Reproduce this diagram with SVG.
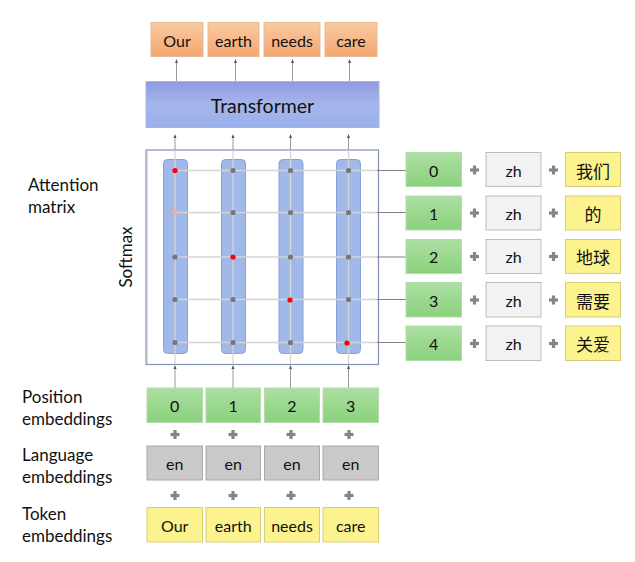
<svg xmlns="http://www.w3.org/2000/svg" width="635" height="562" viewBox="0 0 635 562">
<style>
text{font-family:Lato,"Liberation Sans","Noto Sans CJK SC",sans-serif;fill:#111}
.lbl{font-size:17px}
.bt{font-size:16px;text-anchor:middle;dominant-baseline:central}
.cjk{font-family:"Noto Sans CJK SC",sans-serif;font-size:17px;text-anchor:middle;dominant-baseline:central}
.org{fill:url(#gOrg);stroke:#e5b896;stroke-width:1}
.grn{fill:url(#gGrn);stroke:#b5dcae;stroke-width:1}
.gry{fill:#c9c9c9;stroke:#a9a9a9;stroke-width:1}
.lgt{fill:#f2f2f2;stroke:#bcbcbc;stroke-width:1}
.yel{fill:#fdf38e;stroke:#d9cd78;stroke-width:1}
.col{fill:#a1b9e9;stroke:#8aa0d6;stroke-width:1}
.gl{stroke:#d4d4d4;stroke-width:1.3;fill:none}
.cn{stroke:#9a9a9a;stroke-width:1;fill:none}
.cnd{stroke:#808080;stroke-width:1;fill:none}
.plus{stroke:#858585;stroke-width:3.2}
.dot{fill:#777}
</style>
<defs>
<linearGradient id="gOrg" x1="0" y1="0" x2="0" y2="1"><stop offset="0" stop-color="#f9cba3"/><stop offset="1" stop-color="#f4a56e"/></linearGradient>
<linearGradient id="gGrn" x1="0" y1="0" x2="0" y2="1"><stop offset="0" stop-color="#acdfa3"/><stop offset="1" stop-color="#8bd17c"/></linearGradient>
<linearGradient id="gTr" x1="0" y1="0" x2="0" y2="1"><stop offset="0" stop-color="#8e9ae0"/><stop offset="0.5" stop-color="#a6b6ec"/><stop offset="1" stop-color="#98b0ea"/></linearGradient>
<marker id="ah" markerWidth="4" markerHeight="4" refX="2" refY="2" orient="auto" markerUnits="userSpaceOnUse"><path d="M0,0.5 L4,2 L0,3.5 Z" fill="#555"/></marker>
<g id="pl"><line class="plus" x1="-4.5" y1="0" x2="4.5" y2="0"/><line class="plus" x1="0" y1="-4.5" x2="0" y2="4.5"/></g>
</defs>

<!-- labels -->
<g id="labels">
<text class="lbl" x="28" y="191">Attention</text>
<text class="lbl" x="28" y="213">matrix</text>
<text class="lbl" transform="translate(132,257) rotate(-90)" text-anchor="middle">Softmax</text>
<text class="lbl" x="22" y="403">Position</text>
<text class="lbl" x="22" y="425">embeddings</text>
<text class="lbl" x="22" y="461">Language</text>
<text class="lbl" x="22" y="483">embeddings</text>
<text class="lbl" x="22" y="520">Token</text>
<text class="lbl" x="22" y="542">embeddings</text>
</g>

<!-- matrix frame -->
<g id="matrix">
<rect x="146" y="150" width="232.5" height="214.5" fill="#fff" stroke="#8390b5" stroke-width="1.2"/>
<line x1="147.3" y1="151" x2="147.3" y2="364" stroke="#c8cde0" stroke-width="1"/>
<rect class="col" x="163.5" y="159.5" width="24" height="194" rx="4"/>
<rect class="col" x="221.5" y="159.5" width="24" height="194" rx="4"/>
<rect class="col" x="279" y="159.5" width="24" height="194" rx="4"/>
<rect class="col" x="336.5" y="159.5" width="24" height="194" rx="4"/>
</g>

<!-- connectors -->
<g id="connectors">
<line class="gl" x1="175" y1="150" x2="175" y2="364"/>
<line class="gl" x1="233" y1="150" x2="233" y2="364"/>
<line class="gl" x1="290.5" y1="150" x2="290.5" y2="364"/>
<line class="gl" x1="348.5" y1="150" x2="348.5" y2="364"/>
<line class="gl" x1="175" y1="170.5" x2="377" y2="170.5"/>
<line class="gl" x1="175" y1="212.5" x2="377" y2="212.5"/>
<line class="gl" x1="175" y1="257" x2="377" y2="257"/>
<line class="gl" x1="175" y1="299.5" x2="377" y2="299.5"/>
<line class="gl" x1="175" y1="342.5" x2="377" y2="342.5"/>
<line class="cnd" x1="377" y1="170.5" x2="406" y2="170.5"/>
<line class="cnd" x1="377" y1="212.5" x2="406" y2="212.5"/>
<line class="cnd" x1="377" y1="257" x2="406" y2="257"/>
<line class="cnd" x1="377" y1="299.5" x2="406" y2="299.5"/>
<line class="cnd" x1="377" y1="342.5" x2="406" y2="342.5"/>
<line class="cn" x1="175" y1="388" x2="175" y2="367" marker-end="url(#ah)"/>
<line class="cn" x1="233" y1="388" x2="233" y2="367" marker-end="url(#ah)"/>
<line class="cn" x1="290.5" y1="388" x2="290.5" y2="367" marker-end="url(#ah)"/>
<line class="cn" x1="348.5" y1="388" x2="348.5" y2="367" marker-end="url(#ah)"/>
<line class="cn" x1="175" y1="150" x2="175" y2="136" marker-end="url(#ah)"/>
<line class="cn" x1="233" y1="150" x2="233" y2="136" marker-end="url(#ah)"/>
<line class="cn" x1="290.5" y1="150" x2="290.5" y2="136" marker-end="url(#ah)"/>
<line class="cn" x1="348.5" y1="150" x2="348.5" y2="136" marker-end="url(#ah)"/>
<line class="cn" x1="176.5" y1="81" x2="176.5" y2="61" marker-end="url(#ah)"/>
<line class="cn" x1="235.5" y1="81" x2="235.5" y2="61" marker-end="url(#ah)"/>
<line class="cn" x1="292.5" y1="81" x2="292.5" y2="61" marker-end="url(#ah)"/>
<line class="cn" x1="349.5" y1="81" x2="349.5" y2="61" marker-end="url(#ah)"/>
</g>

<!-- dots -->
<g id="dots">
<circle cx="175" cy="170.5" r="2.6" fill="#ff0000"/>
<circle cx="175" cy="212.5" r="2.6" fill="#f6aaa2"/>
<circle class="dot" cx="175" cy="257" r="2.6"/>
<circle class="dot" cx="175" cy="299.5" r="2.6"/>
<circle class="dot" cx="175" cy="342.5" r="2.6"/>
<circle class="dot" cx="233" cy="170.5" r="2.6"/>
<circle class="dot" cx="233" cy="212.5" r="2.6"/>
<circle cx="233" cy="257" r="2.6" fill="#ff0000"/>
<circle class="dot" cx="233" cy="299.5" r="2.6"/>
<circle class="dot" cx="233" cy="342.5" r="2.6"/>
<circle class="dot" cx="290.5" cy="170.5" r="2.6"/>
<circle class="dot" cx="290.5" cy="212.5" r="2.6"/>
<circle class="dot" cx="290.5" cy="257" r="2.6"/>
<circle cx="290" cy="300" r="2.6" fill="#ff0000"/>
<circle class="dot" cx="290.5" cy="342.5" r="2.6"/>
<circle class="dot" cx="348.5" cy="170.5" r="2.6"/>
<circle class="dot" cx="348.5" cy="212.5" r="2.6"/>
<circle class="dot" cx="348.5" cy="257" r="2.6"/>
<circle class="dot" cx="348.5" cy="299.5" r="2.6"/>
<circle cx="347" cy="343" r="2.6" fill="#ff0000"/>
</g>

<!-- top outputs -->
<g id="out-our"><rect class="org" x="151" y="22.5" width="52" height="34"/><text class="bt" x="177" y="40">Our</text></g>
<g id="out-earth"><rect class="org" x="208" y="22.5" width="51" height="34"/><text class="bt" x="233.5" y="40">earth</text></g>
<g id="out-needs"><rect class="org" x="264" y="22.5" width="56" height="34"/><text class="bt" x="292" y="40">needs</text></g>
<g id="out-care"><rect class="org" x="325" y="22.5" width="52" height="34"/><text class="bt" x="351" y="40">care</text></g>

<!-- transformer -->
<g id="transformer"><rect x="146" y="81.5" width="233" height="46" fill="url(#gTr)" stroke="#aab4e4" stroke-width="1"/><text x="262.5" y="105" text-anchor="middle" dominant-baseline="central" style="font-size:19.5px">Transformer</text></g>

<!-- right side rows -->
<g id="row0"><rect class="grn" x="406" y="152.5" width="55.5" height="34"/><text class="bt" x="433.7" y="170">0</text><use href="#pl" x="474.5" y="170"/><rect class="lgt" x="486" y="152.5" width="55" height="34"/><text class="bt" x="513.5" y="170">zh</text><use href="#pl" x="553.5" y="170"/><rect class="yel" x="565.5" y="152.5" width="55" height="34"/><text class="cjk" x="593" y="170">我们</text></g>
<g id="row1"><rect class="grn" x="406" y="196" width="55.5" height="34"/><text class="bt" x="433.7" y="213">1</text><use href="#pl" x="474.5" y="213"/><rect class="lgt" x="486" y="196" width="55" height="34"/><text class="bt" x="513.5" y="213">zh</text><use href="#pl" x="553.5" y="213"/><rect class="yel" x="565.5" y="196" width="55" height="34"/><text class="cjk" x="593" y="213">的</text></g>
<g id="row2"><rect class="grn" x="406" y="239.5" width="55.5" height="34"/><text class="bt" x="433.7" y="256.5">2</text><use href="#pl" x="474.5" y="256.5"/><rect class="lgt" x="486" y="239.5" width="55" height="34"/><text class="bt" x="513.5" y="256.5">zh</text><use href="#pl" x="553.5" y="256.5"/><rect class="yel" x="565.5" y="239.5" width="55" height="34"/><text class="cjk" x="593" y="256.5">地球</text></g>
<g id="row3"><rect class="grn" x="406" y="282.5" width="55.5" height="34.5"/><text class="bt" x="433.7" y="300">3</text><use href="#pl" x="474.5" y="300"/><rect class="lgt" x="486" y="282.5" width="55" height="34.5"/><text class="bt" x="513.5" y="300">zh</text><use href="#pl" x="553.5" y="300"/><rect class="yel" x="565.5" y="282.5" width="55" height="34.5"/><text class="cjk" x="593" y="300">需要</text></g>
<g id="row4"><rect class="grn" x="406" y="326" width="55.5" height="34.5"/><text class="bt" x="433.7" y="343.5">4</text><use href="#pl" x="474.5" y="343.5"/><rect class="lgt" x="486" y="326" width="55" height="34.5"/><text class="bt" x="513.5" y="343.5">zh</text><use href="#pl" x="553.5" y="343.5"/><rect class="yel" x="565.5" y="326" width="55" height="34.5"/><text class="cjk" x="593" y="343.5">关爱</text></g>

<!-- bottom inputs -->
<g id="pos0"><rect class="grn" x="147" y="388" width="55.5" height="34.5"/><text class="bt" x="174.7" y="405.5">0</text></g>
<g id="pos1"><rect class="grn" x="206" y="388" width="54.5" height="34.5"/><text class="bt" x="233.2" y="405.5">1</text></g>
<g id="pos2"><rect class="grn" x="264.5" y="388" width="55" height="34.5"/><text class="bt" x="292" y="405.5">2</text></g>
<g id="pos3"><rect class="grn" x="323" y="388" width="55.5" height="34.5"/><text class="bt" x="350.7" y="405.5">3</text></g>
<g id="plus1"><use href="#pl" x="175" y="434.5"/><use href="#pl" x="233" y="434.5"/><use href="#pl" x="291" y="434.5"/><use href="#pl" x="349" y="434.5"/></g>
<g id="lang0"><rect class="gry" x="147" y="446" width="55.5" height="34"/><text class="bt" x="174.7" y="463.5">en</text></g>
<g id="lang1"><rect class="gry" x="206" y="446" width="54.5" height="34"/><text class="bt" x="233.2" y="463.5">en</text></g>
<g id="lang2"><rect class="gry" x="264.5" y="446" width="55" height="34"/><text class="bt" x="292" y="463.5">en</text></g>
<g id="lang3"><rect class="gry" x="323" y="446" width="55.5" height="34"/><text class="bt" x="350.7" y="463.5">en</text></g>
<g id="plus2"><use href="#pl" x="175" y="495.5"/><use href="#pl" x="233" y="495.5"/><use href="#pl" x="291" y="495.5"/><use href="#pl" x="349" y="495.5"/></g>
<g id="tok0"><rect class="yel" x="147" y="507.5" width="55.5" height="34.5"/><text class="bt" x="174.7" y="525">Our</text></g>
<g id="tok1"><rect class="yel" x="206" y="507.5" width="54.5" height="34.5"/><text class="bt" x="233.2" y="525">earth</text></g>
<g id="tok2"><rect class="yel" x="264.5" y="507.5" width="55" height="34.5"/><text class="bt" x="292" y="525">needs</text></g>
<g id="tok3"><rect class="yel" x="323" y="507.5" width="55.5" height="34.5"/><text class="bt" x="350.7" y="525">care</text></g>
</svg>
